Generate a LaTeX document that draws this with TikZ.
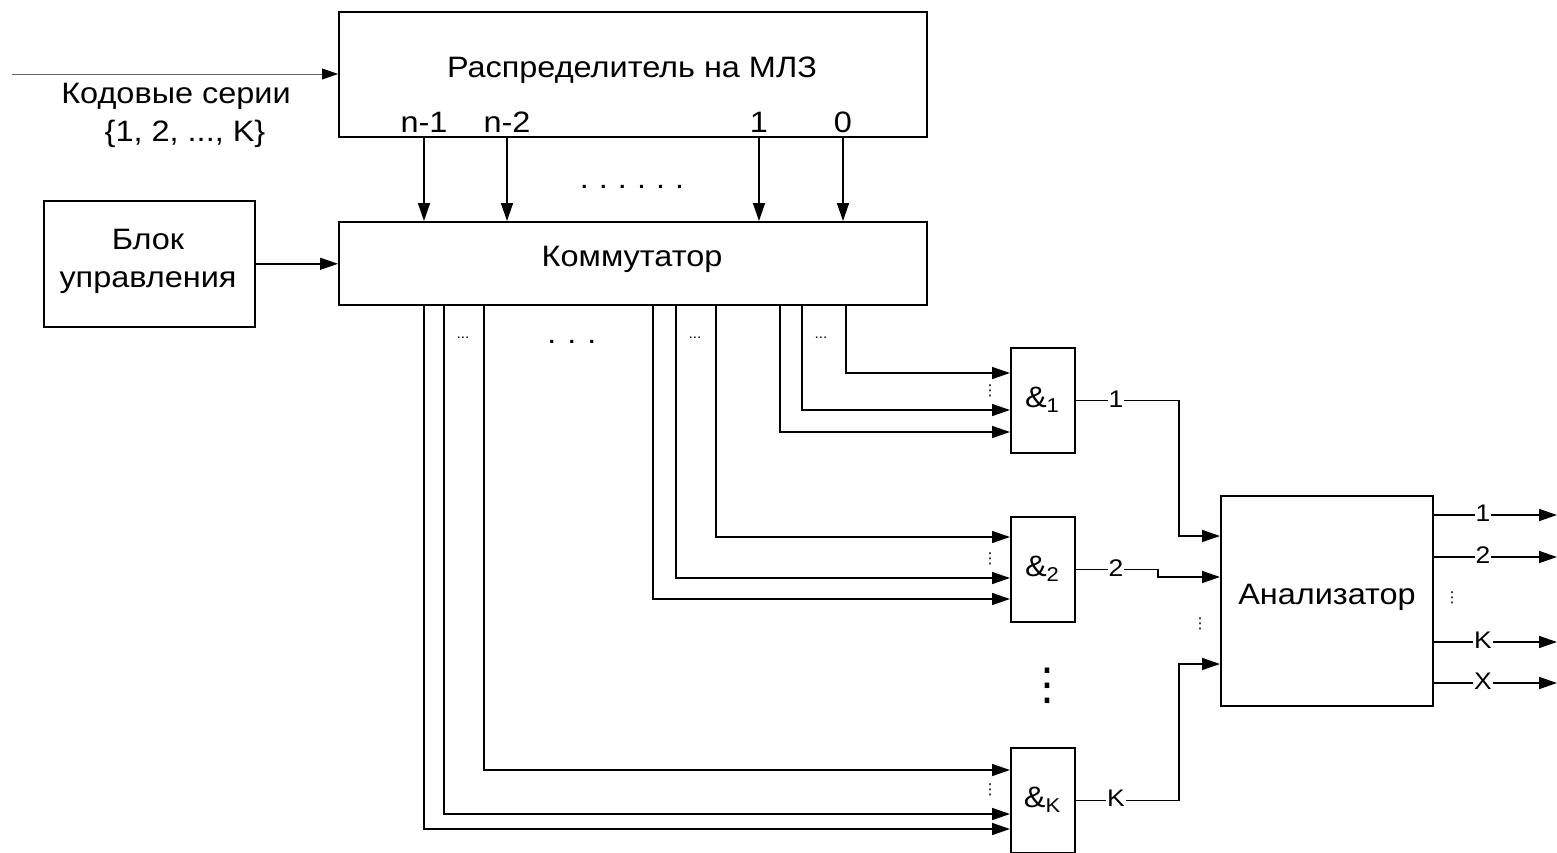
\documentclass[tikz,border=0pt]{standalone}
\usepackage{fontspec}
\setmainfont[FakeStretch=1.1]{Liberation Sans}
\newfontfamily\djv{DejaVu Sans}
\usetikzlibrary{arrows.meta}
\begin{document}
\begin{tikzpicture}[x=1pt,y=-1pt,
  box/.style={draw, line width=1.6pt, inner sep=0pt, anchor=north west},
  wire/.style={line width=1.5pt},
  arr/.style={wire, -{Triangle[length=18pt,width=12pt]}},
  thinarr/.style={line width=0.8pt, draw=black!60, -{Triangle[length=16pt,width=11pt,fill=black,color=black]}},
  lbl/.style={font=\fontsize{29.5}{38}\selectfont, inner sep=1pt, align=center},
  wl/.style={font=\fontsize{24}{26}\selectfont, fill=white, inner xsep=1pt, inner ysep=2pt},
  sdots/.style={font=\djv\fontsize{15}{15}\selectfont, inner sep=0pt},
  hdots/.style={font=\fontsize{14}{14}\selectfont, inner sep=0pt},
  vdots/.style={font=\djv\fontsize{44}{44}\selectfont, inner sep=0pt}]
\useasboundingbox (0,0) rectangle (1557,853);

% blocks
\node[box, minimum width=588, minimum height=125] (dist) at (338,11) {};
\node[lbl] (distt) at (632,70) {Распределитель на МЛЗ};
\node[lbl] (pA) at (424,122) {n-1};
\node[lbl] (pB) at (507,122) {n-2};
\node[lbl] (pC) at (759,122) {1};
\node[lbl] (pD) at (843,122) {0};

\node[box, minimum width=588, minimum height=83] (comm) at (338,221) {};
\node[lbl] (commt) at (632,259) {Коммутатор};

\node[box, minimum width=211, minimum height=126] (ctrl) at (43,200) {};
\node[lbl] (ctrlt) at (148,261) {Блок\\управления};

\node[lbl] (codes) at (176,115) {Кодовые серии\\\ \ \{1, 2, ..., K\}};

\node[box, minimum width=64, minimum height=105] (and1) at (1010,347) {};
\node[box, minimum width=64, minimum height=105] (and2) at (1010,516) {};
\node[box, minimum width=64, minimum height=105] (andK) at (1010,747) {};
\node[lbl] (and1t) at (1042,400) {\&\raisebox{-0.35ex}{\fontsize{20}{20}\selectfont 1}};
\node[lbl] (and2t) at (1042,569) {\&\raisebox{-0.35ex}{\fontsize{20}{20}\selectfont 2}};
\node[lbl] (andKt) at (1042,800) {\&\raisebox{-0.35ex}{\fontsize{20}{20}\selectfont K}};

\node[box, minimum width=212, minimum height=210] (an) at (1220,495) {};
\node[lbl] (ant) at (1327,597) {Анализатор};

% input lines
\coordinate (inp) at (12,74);
\draw[thinarr] (inp) -- (inp -| dist.west);
\draw[arr] (ctrl.east) -- (ctrl.east -| comm.west);

% distributor -> commutator
\foreach \p in {pA,pB,pC,pD}
  \draw[arr] (\p |- dist.south) -- (\p |- comm.north);

% commutator -> AND gates
\coordinate (g1a) at (846,373);
\coordinate (g1b) at (802,410);
\coordinate (g1c) at (780,432);
\coordinate (g2a) at (716,537);
\coordinate (g2b) at (676,578);
\coordinate (g2c) at (653,599);
\coordinate (gKa) at (484,770);
\coordinate (gKb) at (444,814);
\coordinate (gKc) at (424,829);
\foreach \g/\t in {g1a/and1,g1b/and1,g1c/and1,g2a/and2,g2b/and2,g2c/and2,gKa/andK,gKb/andK,gKc/andK}
  \draw[arr] (comm.south -| \g) |- (\t.west |- \g);

% AND gates -> analyzer
\coordinate (j1) at (1179,536);
\coordinate (j2) at (1158,577);
\coordinate (j3) at (1179,664);
\draw[arr] (and1.east) -| (j1) -- (j1 -| an.west);
\draw[arr] (and2.east) -- (and2.east -| j2) -- (j2) -- (j2 -| an.west);
\draw[arr] (andK.east) -| (j3) -- (j3 -| an.west);
\node[wl] (w1) at (1116,399) {1};
\node[wl] (w2) at (1116,568) {2};
\node[wl] (wK) at (1116,798) {K};

% analyzer outputs
\coordinate (o1) at (1557,515);
\coordinate (o2) at (1557,557);
\coordinate (oK) at (1557,642);
\coordinate (oX) at (1557,683);
\foreach \o in {o1,o2,oK,oX}
  \draw[arr] (an.east |- \o) -- (\o);
\node[wl] (wo1) at (1483,513) {1};
\node[wl] (wo2) at (1483,555) {2};
\node[wl] (woK) at (1483,640) {K};
\node[wl] (woX) at (1483,681) {X};

% dots
\node[sdots] (d1) at (990,391) {⋮};
\node[sdots] (d2) at (990,559) {⋮};
\node[sdots] (d3) at (990,790) {⋮};
\node[sdots] (d4) at (1200,624) {⋮};
\node[sdots] (d5) at (1452,598) {⋮};
\node[hdots] (h1) at (463,338) {...};
\node[hdots] (h2) at (695,338) {...};
\node[hdots] (h3) at (821,338) {...};
\node[lbl] (bigh) at (572,342) {.\hspace{11pt}.\hspace{11pt}.};
\node[lbl] (toph) at (632,187) {.\hspace{10pt}.\hspace{10pt}.\hspace{10pt}.\hspace{10pt}.\hspace{10pt}.};
\node[vdots] (vd) at (1047,686) {⋮};
\end{tikzpicture}
\end{document}
